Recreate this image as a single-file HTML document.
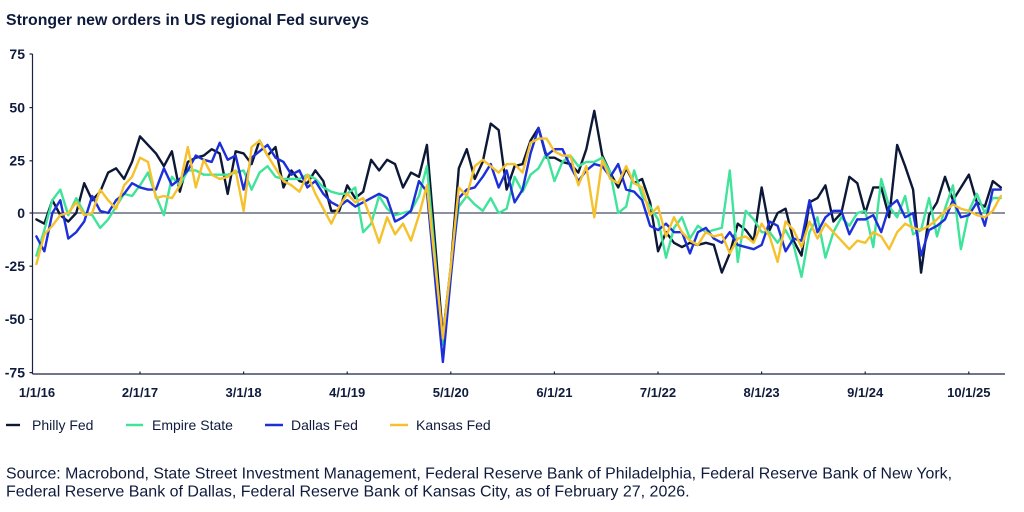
<!DOCTYPE html>
<html><head><meta charset="utf-8"><style>
html,body{margin:0;padding:0;background:#fff;}
svg{display:block;}
text{font-family:"Liberation Sans",Arial,sans-serif;fill:#0f1b3d;}
</style></head><body>
<svg width="1024" height="512" viewBox="0 0 1024 512" xmlns="http://www.w3.org/2000/svg">
<text x="6" y="25" font-size="16" font-weight="bold" textLength="363" lengthAdjust="spacingAndGlyphs">Stronger new orders in US regional Fed surveys</text>
<g font-size="14" font-weight="bold" text-anchor="end">
<text x="25" y="59">75</text>
<text x="25" y="112.5">50</text>
<text x="25" y="165.5">25</text>
<text x="25" y="218">0</text>
<text x="25" y="271">-25</text>
<text x="25" y="324">-50</text>
<text x="25" y="377.5">-75</text>
</g>
<g stroke="#1a2340" stroke-width="1.2" fill="none">
<line x1="32.5" y1="54" x2="32.5" y2="374"/>
<line x1="29.5" y1="54" x2="32.5" y2="54"/>
<line x1="29.5" y1="107.6" x2="32.5" y2="107.6"/>
<line x1="29.5" y1="160.8" x2="32.5" y2="160.8"/>
<line x1="29.5" y1="213" x2="32.5" y2="213"/>
<line x1="29.5" y1="266.2" x2="32.5" y2="266.2"/>
<line x1="29.5" y1="319.4" x2="32.5" y2="319.4"/>
<line x1="29.5" y1="372.6" x2="32.5" y2="372.6"/>
<line x1="32.5" y1="213" x2="1005" y2="213" stroke-width="1"/>
<line x1="32.5" y1="374" x2="1005" y2="374"/>
<line x1="140" y1="371.5" x2="140" y2="374"/>
<line x1="243.6" y1="371.5" x2="243.6" y2="374"/>
<line x1="347.2" y1="371.5" x2="347.2" y2="374"/>
<line x1="450.8" y1="371.5" x2="450.8" y2="374"/>
<line x1="554.4" y1="371.5" x2="554.4" y2="374"/>
<line x1="658" y1="371.5" x2="658" y2="374"/>
<line x1="761.6" y1="371.5" x2="761.6" y2="374"/>
<line x1="865.2" y1="371.5" x2="865.2" y2="374"/>
<line x1="968.8" y1="371.5" x2="968.8" y2="374"/>
</g>
<g font-size="13" font-weight="bold" text-anchor="middle">
<text x="37" y="397">1/1/16</text>
<text x="140" y="397">2/1/17</text>
<text x="243.6" y="397">3/1/18</text>
<text x="347.2" y="397">4/1/19</text>
<text x="450.8" y="397">5/1/20</text>
<text x="554.4" y="397">6/1/21</text>
<text x="658" y="397">7/1/22</text>
<text x="761.6" y="397">8/1/23</text>
<text x="865.2" y="397">9/1/24</text>
<text x="968.8" y="397">10/1/25</text>
</g>
<g transform="translate(36.4 213) scale(7.97 -2.128)" fill="none" stroke-width="2.4" stroke-linejoin="round" stroke-linecap="round">
<polyline vector-effect="non-scaling-stroke" stroke="#0c1836" points="0,-3 1,-5 2,6 3,-1 4,-4 5,0 6,14 7,6 8,10 9,19 10,21 11,16 12,24 13,36 14,32 15,28 16,22 17,29 18,10 19,24 20,26 21,27 22,30 23,28 24,9 25,29 26,28 27,23 28,34 29,27 30,31 31,12 32,20 33,15 34,14 35,20 36,15 37,1 38,1 39,13 40,7 41,10 42,25 43,20 44,25 45,23 46,12 47,19 48,17 49,32 50,-13 51,-58 52,-25 53,21 54,30 55,16 56,24 57,42 58,39 59,11 60,22 61,23 62,34 63,40 64,26 65,26 66,24 67,23 68,19 69,30 70,48 71,27 72,19 73,12 74,21 75,14 76,16 77,5 78,-18 79,-9 80,-14 81,-16 82,-14 83,-15 84,-14 85,-15 86,-28 87,-19 88,-5 89,-8 90,-13 91,12 92,-8 93,0 94,2 95,-13 96,-20 97,5 98,7 99,13 100,-4 101,0 102,17 103,14 104,0 105,12 106,12 107,-2 108,32 109,22 110,11 111,-28 112,-1 113,5 114,17 115,6 116,12 117,18 118,5 119,3 120,15 121,12"/>
<polyline vector-effect="non-scaling-stroke" stroke="#3fe39a" points="0,-20 1,-8 2,6 3,11 4,-1 5,7 6,0 7,-1 8,-7 9,-3 10,3 11,9 12,8 13,13 14,19 15,8 16,-1 17,17 18,13 19,20 20,20 21,18 22,18 23,18 24,18 25,19 26,20 27,11 28,19 29,22 30,17 31,16 32,16 33,16 34,18 35,16 36,12 37,10 38,9 39,9 40,12 41,-9 42,-5 43,8 44,2 45,-1 46,0 47,1 48,8 49,22 50,-20 51,-62 52,-25 53,3 54,8 55,4 56,1 57,7 58,0 59,2 60,17 61,10 62,18 63,21 64,28 65,15 66,24 67,27 68,22 69,24 70,24 71,26 72,19 73,0 74,3 75,20 76,8 77,3 78,-3 79,-21 80,-7 81,-2 82,-12 83,-6 84,-9 85,-8 86,-7 87,20 88,-23 89,1 90,-3 91,-9 92,-9 93,-14 94,-8 95,-15 96,-30 97,-9 98,-2 99,-21 100,-9 101,-2 102,-6 103,0 104,1 105,-16 106,16 107,3 108,-2 109,8 110,-10 111,-8 112,7 113,-11 114,2 115,13 116,-17 117,1 118,9 119,0 120,7 121,7"/>
<polyline vector-effect="non-scaling-stroke" stroke="#1c2fd8" points="0,-11 1,-18 2,0 3,6 4,-12 5,-9 6,-4 7,8 8,1 9,0 10,6 11,9 12,14 13,12 14,11 15,11 16,21 17,13 18,16 19,20 20,27 21,25 22,24 23,33 24,25 25,27 26,11 27,26 28,29 29,32 30,26 31,24 32,18 33,20 34,12 35,15 36,9 37,5 38,3 39,6 40,3 41,5 42,7 43,9 44,7 45,-4 46,-2 47,1 48,15 49,10 50,-30 51,-70 52,-30 53,7 54,11 55,12 56,17 57,23 58,12 59,20 60,5 61,11 62,28 63,40 64,27 65,30 66,30 67,22 68,15 69,20 70,23 71,22 72,17 73,23 74,11 75,10 76,6 77,-6 78,-8 79,-5 80,-9 81,-9 82,-19 83,-9 84,-7 85,-12 86,-14 87,-9 88,-15 89,-16 90,-17 91,-15 92,-4 93,-6 94,-18 95,-12 96,-13 97,6 98,-9 99,-2 100,1 101,1 102,-10 103,-3 104,-3 105,-1 106,-9 107,3 108,6 109,-2 110,0 111,-20 112,-8 113,-6 114,-3 115,6 116,-2 117,-1 118,5 119,-6 120,11 121,11"/>
<polyline vector-effect="non-scaling-stroke" stroke="#f5c12c" points="0,-24 1,-10 2,-6 3,-1 4,0 5,5 6,-1 7,0 8,11 9,6 10,2 11,13 12,17 13,26 14,24 15,7 16,8 17,7 18,13 19,31 20,12 21,25 22,18 23,16 24,17 25,20 26,1 27,31 28,34 29,27 30,21 31,15 32,13 33,10 34,18 35,9 36,2 37,-5 38,3 39,9 40,5 41,7 42,-3 43,-14 44,-2 45,-10 46,-5 47,-13 48,-1 49,13 50,-23 51,-59 52,-25 53,12 54,8 55,22 56,25 57,22 58,19 59,23 60,23 61,19 62,33 63,35 64,35 65,29 66,27 67,27 68,13 69,22 70,-2 71,25 72,16 73,14 74,22 75,14 76,12 77,-1 78,3 79,-11 80,-2 81,-9 82,-13 83,-15 84,-9 85,-11 86,-10 87,-19 88,-12 89,-11 90,-14 91,-5 92,-11 93,-23 94,-4 95,-8 96,-16 97,-4 98,-12 99,-5 100,-9 101,-13 102,-17 103,-13 104,-14 105,-9 106,-11 107,-17 108,-9 109,-5 110,-7 111,-8 112,-6 113,-3 114,1 115,4 116,2 117,1 118,-1 119,-2 120,1 121,8"/>
</g>
<g stroke-width="2.4">
<line x1="6" y1="425" x2="20" y2="425" stroke="#0c1836"/>
<line x1="126" y1="425" x2="143" y2="425" stroke="#3fe39a"/>
<line x1="265" y1="425" x2="283" y2="425" stroke="#1c2fd8"/>
<line x1="390" y1="425" x2="408" y2="425" stroke="#f5c12c"/>
</g>
<g font-size="14">
<text x="32" y="430">Philly Fed</text>
<text x="152" y="430">Empire State</text>
<text x="291" y="430">Dallas Fed</text>
<text x="416" y="430">Kansas Fed</text>
</g>
<g font-size="16">
<text x="6" y="478.5" textLength="946" lengthAdjust="spacingAndGlyphs">Source: Macrobond, State Street Investment Management, Federal Reserve Bank of Philadelphia, Federal Reserve Bank of New York,</text>
<text x="6" y="496.5">Federal Reserve Bank of Dallas, Federal Reserve Bank of Kansas City, as of February 27, 2026.</text>
</g>
</svg>
</body></html>
